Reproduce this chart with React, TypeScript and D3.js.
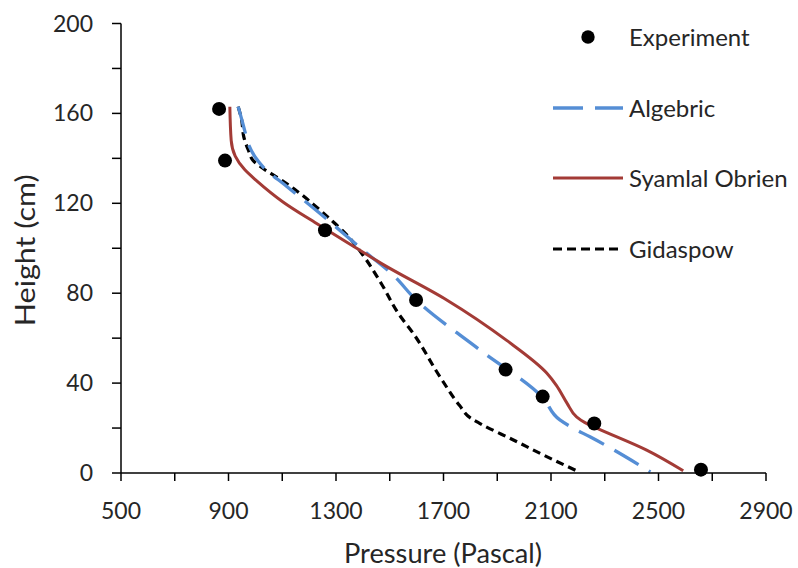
import React from "react";
import * as d3 from "d3";

const xTicks = [500, 700, 900, 1100, 1300, 1500, 1700, 1900, 2100, 2300, 2500, 2700, 2900];
const xTickLabels = [500, 900, 1300, 1700, 2100, 2500, 2900];
const yTicks = [0, 20, 40, 60, 80, 100, 120, 140, 160, 180, 200];
const yTickLabels = [0, 40, 80, 120, 160, 200];

const experimentP = [865, 887, 1259, 1598, 1931, 2069, 2261, 2658];
const experimentH = [162, 139, 108, 77, 46, 34, 22, 1.5];

const algebricP = [936, 950, 961, 975, 999, 1030, 1117, 1265, 1402, 1513, 1598, 1836, 2069, 2133, 2183, 2245, 2470];
const algebricH = [163, 157, 152, 146, 140.6, 136, 127.5, 113, 99, 88, 77, 54.7, 33.6, 23.6, 19.9, 16.1, 0.5];

const syamlalP = [905, 910, 925, 960, 1005, 1104, 1228, 1389, 1465, 1712, 1935, 2084, 2120, 2160, 2195, 2225, 2270, 2456, 2592];
const syamlalH = [163, 148, 141, 135, 130, 120.5, 111, 99.1, 93.5, 77, 59, 44.5, 39, 31, 25, 22.5, 20, 10.2, 1];

const gidaspowP = [936, 949, 957, 974, 992, 1030, 1079, 1154, 1216, 1278, 1340, 1400, 1470, 1532, 1588, 1687, 1760, 1800, 1836, 1960, 2084, 2202];
const gidaspowH = [163, 157, 149.5, 143.6, 139, 135.4, 131.7, 125.5, 119.5, 113, 106, 97, 84, 71, 62, 42.8, 30, 24.5, 22, 14.7, 7.3, 0.6];

const seriesNames = ["Experiment", "Algebric", "Syamlal Obrien", "Gidaspow"];

const FONT = "Lato, 'Open Sans', sans-serif";
const TEXT = "#262626";

export default function App() {
  const x = d3.scaleLinear().domain([500, 2900]).range([121, 766]);
  const y = d3.scaleLinear().domain([0, 200]).range([473, 23.5]);

  const line = d3
    .line<[number, number]>()
    .x((d) => x(d[0]))
    .y((d) => y(d[1]))
    .curve(d3.curveMonotoneY);

  const zip = (a: number[], b: number[]) => a.map((v, i) => [v, b[i]] as [number, number]);

  const legendY = [37, 108, 178, 249];

  return (
    <svg
      width={798}
      height={568}
      style={{ position: "absolute", left: 0, top: 0, background: "#fff" }}
      fontFamily={FONT}
    >
      {/* lines */}
      <path d={line(zip(gidaspowP, gidaspowH)) || ""} fill="none" stroke="#000" strokeWidth={3.2} strokeDasharray="8,5" />
      <path d={line(zip(algebricP, algebricH)) || ""} fill="none" stroke="#558ED5" strokeWidth={3.3} strokeDasharray="28,12" />
      <path d={line(zip(syamlalP, syamlalH)) || ""} fill="none" stroke="#A33B36" strokeWidth={3} />
      {experimentP.map((p, i) => (
        <circle key={i} cx={x(p)} cy={y(experimentH[i])} r={7} fill="#000" />
      ))}

      {/* axes */}
      <line x1={x(500)} x2={x(2900)} y1={y(0)} y2={y(0)} stroke="#000" strokeWidth={1.5} />
      <line x1={x(500)} x2={x(500)} y1={y(0)} y2={y(200)} stroke="#000" strokeWidth={1.5} />
      {xTicks.map((t) => (
        <line key={t} x1={x(t)} x2={x(t)} y1={y(0)} y2={y(0) + 8} stroke="#000" strokeWidth={1.5} />
      ))}
      {yTicks.map((t) => (
        <line key={t} x1={x(500) - 9} x2={x(500)} y1={y(t)} y2={y(t)} stroke="#000" strokeWidth={1.5} />
      ))}
      {xTickLabels.map((t) => (
        <text key={t} x={x(t)} y={519} textAnchor="middle" fontSize={23} fill={TEXT}>
          {t}
        </text>
      ))}
      {yTickLabels.map((t) => (
        <text key={t} x={93} y={y(t) + 8} textAnchor="end" fontSize={23} fill={TEXT}>
          {t}
        </text>
      ))}
      <text x={443} y={563} textAnchor="middle" fontSize={27} fill={TEXT} textLength={198} lengthAdjust="spacingAndGlyphs">
        Pressure (Pascal)
      </text>
      <text
        transform={`translate(35, ${(y(0) + y(200)) / 2 + 2}) rotate(-90)`}
        textAnchor="middle"
        fontSize={27}
        fill={TEXT}
        textLength={152}
        lengthAdjust="spacingAndGlyphs"
      >
        Height (cm)
      </text>

      {/* legend */}
      <circle cx={588} cy={legendY[0]} r={6.7} fill="#000" />
      <line x1={553} x2={623} y1={legendY[1]} y2={legendY[1]} stroke="#558ED5" strokeWidth={3.3} strokeDasharray="30,12" />
      <line x1={553} x2={623} y1={legendY[2]} y2={legendY[2]} stroke="#A33B36" strokeWidth={3} />
      <line x1={553} x2={623} y1={legendY[3]} y2={legendY[3]} stroke="#000" strokeWidth={3.2} strokeDasharray="9,5" />
      {seriesNames.map((n, i) => (
        <text key={n} x={629} y={legendY[i] + 9} fontSize={24} fill={TEXT}>
          {n}
        </text>
      ))}
    </svg>
  );
}
